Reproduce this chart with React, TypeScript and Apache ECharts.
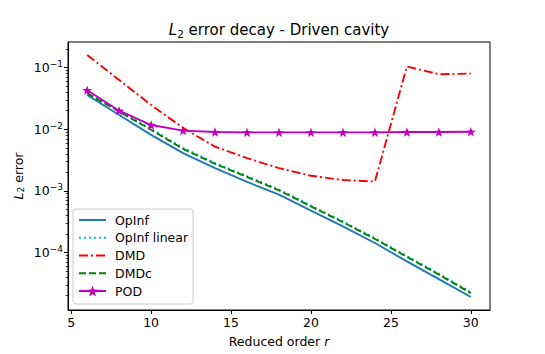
import React, { useEffect, useRef } from "react";
import * as echarts from "echarts";

const orders = [6, 8, 10, 12, 14, 16, 18, 20, 22, 24, 26, 28, 30];
const opinf = [0.036, 0.017, 0.0081, 0.0041, 0.00234, 0.0014, 8.7e-4, 4.8e-4, 2.65e-4, 1.43e-4, 7.2e-5, 3.7e-5, 1.9e-5];
const opinfLinear = [0.039, 0.0198, 0.0101, 0.005, 0.00285, 0.00174, 0.00106, 5.8e-4, 3.2e-4, 1.72e-4, 8.8e-5, 4.55e-5, 2.28e-5];
const dmd = [0.16, 0.063, 0.0248, 0.0105, 0.0052, 0.0034, 0.00234, 0.00176, 0.0015, 0.00142, 0.104, 0.078, 0.08];
const dmdc = [0.038, 0.0194, 0.0098, 0.0048, 0.00275, 0.00168, 0.00102, 5.6e-4, 3.1e-4, 1.66e-4, 8.5e-5, 4.4e-5, 2.2e-5];
const pod = [0.043, 0.02, 0.0117, 0.0095, 0.009, 0.0089, 0.0089, 0.0089, 0.0089, 0.0089, 0.009, 0.009, 0.0091];

const xTicks = [5, 10, 15, 20, 25, 30];
const yMajorTicks = [1e-4, 1e-3, 1e-2, 1e-1];
const yMinorTicks: number[] = [];
for (let e = -5; e <= -1; e++) {
  for (let k = 2; k <= 9; k++) {
    const v = k * Math.pow(10, e);
    if (v > 1.17e-5 && v < 0.26) yMinorTicks.push(v);
  }
}

const FONT = "DejaVu Sans";
const STAR =
  "path://M0,-10 L2.35,-3.24 L9.51,-3.09 L3.8,1.24 L5.88,8.09 L0,4 L-5.88,8.09 L-3.8,1.24 L-9.51,-3.09 L-2.35,-3.24 Z";

const pairs = (vals: number[]) => orders.map((r, i) => [r, vals[i]]);

export default function App() {
  const ref = useRef<HTMLDivElement>(null);
  useEffect(() => {
    const chart = echarts.init(ref.current!, null, { renderer: "svg" });
    const yMin = 1.17e-5;
    const yMax = 0.26;
    const hidden = { opacity: 0 };
    chart.setOption({
      animation: false,
      backgroundColor: "#fff",
      grid: { left: 68, right: 55, top: 42, bottom: 44, show: true, borderColor: "#000", borderWidth: 1 },
      xAxis: {
        type: "value",
        min: 4.8,
        max: 31.2,
        axisLine: { lineStyle: { color: "#000", width: 1 } },
        axisTick: { length: 4, lineStyle: { color: "#000" }, customValues: xTicks },
        axisLabel: { customValues: xTicks, color: "#000", fontSize: 12.5, fontFamily: FONT, margin: 6 },
        splitLine: { show: false },
      },
      yAxis: [
        {
          type: "log",
          logBase: 10,
          min: yMin,
          max: yMax,
          position: "left",
          axisLine: { show: true, lineStyle: { color: "#000", width: 1 } },
          axisTick: { length: 4, lineStyle: { color: "#000" }, customValues: yMajorTicks },
          axisLabel: {
            customValues: yMajorTicks,
            color: "#000",
            fontSize: 12.5,
            fontFamily: FONT,
            margin: 5,
            formatter: (v: number) => {
              const e = Math.round(Math.log10(v));
              return "10{sup|" + (e < 0 ? "\u2212" + -e : String(e)) + "}";
            },
            rich: {
              sup: { fontSize: 9, fontFamily: FONT, color: "#000", verticalAlign: "top", lineHeight: 9 },
            },
            lineHeight: 16,
          },
          splitLine: { show: false },
        },
        {
          type: "log",
          logBase: 10,
          min: yMin,
          max: yMax,
          position: "left",
          axisLine: { show: false },
          axisTick: { length: 2.2, lineStyle: { color: "#000", width: 0.8 }, customValues: yMinorTicks },
          axisLabel: { show: false },
          splitLine: { show: false },
        },
      ],
      legend: {
        orient: "vertical",
        left: 73,
        top: 209,
        itemWidth: 27,
        itemHeight: 14,
        itemGap: 3.75,
        padding: [4, 5, 6, 5],
        borderColor: "#cccccc",
        borderWidth: 1,
        borderRadius: 3,
        backgroundColor: "rgba(255,255,255,0.8)",
        textStyle: { fontSize: 12.5, fontFamily: FONT, color: "#000", lineHeight: 14, padding: [0, 0, 0, 4] },
        data: [
          { name: "OpInf", itemStyle: hidden },
          { name: "OpInf linear", itemStyle: hidden },
          { name: "DMD", itemStyle: hidden },
          { name: "DMDc", itemStyle: hidden },
          { name: "POD" },
        ],
      },
      series: [
        {
          name: "OpInf",
          type: "line",
          data: pairs(opinf),
          symbol: "none",
          lineStyle: { color: "#1f77b4", width: 1.9 },
          itemStyle: { color: "#1f77b4" },
        },
        {
          name: "OpInf linear",
          type: "line",
          data: pairs(opinfLinear),
          symbol: "none",
          lineStyle: { color: "#00bfbf", width: 1.9, type: [1.9, 3.1] },
          itemStyle: { color: "#00bfbf" },
        },
        {
          name: "DMD",
          type: "line",
          data: pairs(dmd),
          symbol: "none",
          lineStyle: { color: "#ff0000", width: 1.9, type: [9, 3, 2, 3] },
          itemStyle: { color: "#ff0000" },
        },
        {
          name: "DMDc",
          type: "line",
          data: pairs(dmdc),
          symbol: "none",
          lineStyle: { color: "#008000", width: 1.9, type: [7, 3] },
          itemStyle: { color: "#008000" },
        },
        {
          name: "POD",
          type: "line",
          data: pairs(pod),
          symbol: STAR,
          symbolSize: [10, 9.5],
          lineStyle: { color: "#bf00bf", width: 1.9 },
          itemStyle: { color: "#bf00bf" },
        },
      ],
      graphic: [
        {
          type: "text",
          x: 279,
          y: 30,
          style: {
            text: "{i|L}{s|2}{n| error decay - Driven cavity}",
            align: "center",
            verticalAlign: "middle",
            fill: "#000",
            rich: {
              i: { fontSize: 15, fontFamily: FONT, fontStyle: "italic", lineHeight: 18 },
              s: { fontSize: 10.5, fontFamily: FONT, verticalAlign: "bottom", lineHeight: 10 },
              n: { fontSize: 15, fontFamily: FONT, lineHeight: 18 },
            },
          },
        },
        {
          type: "text",
          x: 279,
          y: 341,
          style: {
            text: "Reduced order {i|r}",
            align: "center",
            verticalAlign: "middle",
            fill: "#000",
            font: "12.5px 'DejaVu Sans'",
            rich: { i: { fontSize: 12.5, fontFamily: FONT, fontStyle: "italic" } },
          },
        },
        {
          type: "text",
          x: 18,
          y: 176,
          rotation: Math.PI / 2,
          style: {
            text: "{i|L}{s|2}{n| error}",
            align: "center",
            verticalAlign: "middle",
            fill: "#000",
            rich: {
              i: { fontSize: 12.5, fontFamily: FONT, fontStyle: "italic", lineHeight: 15 },
              s: { fontSize: 9, fontFamily: FONT, verticalAlign: "bottom", lineHeight: 9 },
              n: { fontSize: 12.5, fontFamily: FONT, lineHeight: 15 },
            },
          },
        },
      ],
    });
    return () => chart.dispose();
  }, []);
  return <div ref={ref} style={{ width: 545, height: 354, position: "absolute", left: 0, top: 0 }} />;
}
